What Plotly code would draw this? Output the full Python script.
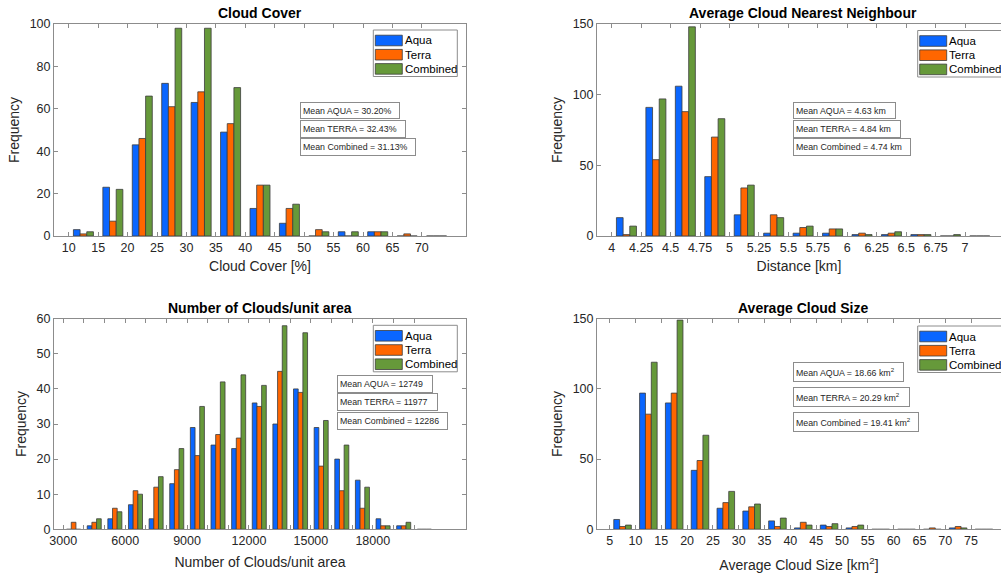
import plotly.graph_objects as go

W, H = 1001, 577
FONT = "Liberation Sans, Arial, Helvetica, sans-serif"

AQUA_COLOR = "#0a66ff"
TERRA_COLOR = "#ff6600"
COMB_COLOR = "#66993a"
EDGE = "#3c3c3c"
AXIS_GREY = "#8c8c8c"
SERIES = ["Aqua", "Terra", "Combined"]

# ---- Cloud cover [%], 5 % bins ----
cover_bins = [12.5, 17.5, 22.5, 27.5, 32.5, 37.5, 42.5, 47.5, 52.5, 57.5, 62.5, 67.5, 72.5]
cover_aqua = [3, 23, 43, 72, 63, 49, 13, 6, 0, 2, 2, 0, 0]
cover_terra = [1, 7, 46, 61, 68, 53, 24, 13, 3, 0, 2, 1, 0]
cover_comb = [2, 22, 66, 98, 98, 70, 24, 15, 2, 2, 2, 0, 0]
cover_ticks = [10, 15, 20, 25, 30, 35, 40, 45, 50, 55, 60, 65, 70]
cover_means = ["30.20%", "32.43%", "31.13%"]

# ---- Average nearest-neighbour distance [km], 0.25 km bins ----
nn_bins = [4.125, 4.375, 4.625, 4.875, 5.125, 5.375, 5.625, 5.875, 6.125, 6.375, 6.625, 6.875, 7.125]
nn_aqua = [13, 91, 106, 42, 15, 2, 2, 2, 1, 1, 1, 0, 0]
nn_terra = [1, 54, 88, 70, 34, 15, 6, 5, 2, 2, 1, 0, 0]
nn_comb = [7, 97, 148, 83, 36, 13, 7, 5, 1, 3, 1, 1, 0]
nn_ticks = [4, 4.25, 4.5, 4.75, 5, 5.25, 5.5, 5.75, 6, 6.25, 6.5, 6.75, 7]
nn_ticktext = ["4", "4.25", "4.5", "4.75", "5", "5.25", "5.5", "5.75", "6", "6.25", "6.5", "6.75", "7"]
nn_means = ["4.63 km", "4.84 km", "4.74 km"]

# ---- Number of clouds per unit area, 1000 bins ----
count_bins = [3500, 4500, 5500, 6500, 7500, 8500, 9500, 10500, 11500, 12500,
              13500, 14500, 15500, 16500, 17500, 18500, 19500, 20500]
count_aqua = [0, 1, 3, 7, 3, 13, 29, 24, 23, 36, 30, 40, 29, 20, 14, 3, 1, 0]
count_terra = [2, 2, 6, 11, 12, 17, 21, 27, 26, 35, 45, 39, 18, 11, 6, 1, 1, 0]
count_comb = [0, 3, 5, 10, 15, 23, 35, 42, 44, 41, 58, 56, 31, 24, 12, 1, 2, 0]
count_ticks = [3000, 6000, 9000, 12000, 15000, 18000]
count_ticktext = ["3000", "6000", "9000", "12000", "15000", "18000"]
count_minor_ticks = [4000, 5000, 7000, 8000, 10000, 11000, 13000, 14000,
                     16000, 17000, 19000, 20000]
count_means = ["12749", "11977", "12286"]

# ---- Average cloud size [km^2], 5 km^2 bins ----
size_bins = [7.5, 12.5, 17.5, 22.5, 27.5, 32.5, 37.5, 42.5, 47.5, 52.5, 57.5, 62.5, 67.5, 72.5, 77.5]
size_aqua = [7, 97, 90, 42, 15, 13, 6, 1, 3, 1, 0, 0, 0, 1, 0]
size_terra = [2, 82, 97, 49, 19, 16, 2, 5, 2, 2, 0, 0, 1, 2, 0]
size_comb = [3, 119, 149, 67, 27, 18, 8, 3, 4, 3, 0, 0, 0, 1, 0]
size_ticks = [5, 10, 15, 20, 25, 30, 35, 40, 45, 50, 55, 60, 65, 70, 75]
size_means = ["18.66 km<sup>2</sup>", "20.29 km<sup>2</sup>", "19.41 km<sup>2</sup>"]


def px_x(p):
    return p / W


def px_y(p):
    return 1 - p / H


panels = [
    dict(title="Cloud Cover", xtitle="Cloud Cover [%]", bins=cover_bins,
         series=[cover_aqua, cover_terra, cover_comb], ticks=cover_ticks, ticktext=None, minor=None,
         xr=[7.5, 77.5], yr=[0, 100], ydtick=20, means=cover_means, standoff=7,
         box=(54, 466, 24, 236), center=260, right=False,
         mean_boxes=[(300, 102, 100, 17), (300, 120, 106, 17.5), (300, 138.5, 116, 17.5)],
         legend=(373.3, 30)),
    dict(title="Average Cloud Nearest Neighbour", xtitle="Distance [km]", bins=nn_bins,
         series=[nn_aqua, nn_terra, nn_comb], ticks=nn_ticks, ticktext=nn_ticktext, minor=None,
         xr=[3.875, 7.305], yr=[0, 150], ydtick=50, means=nn_means, standoff=7,
         box=(597, 1001, 24, 236), center=803, right=True,
         mean_boxes=[(793.3, 102, 103, 17), (793.3, 120, 107.5, 17.5), (793.3, 138.5, 117.5, 17.5)],
         legend=(917.7, 30.5)),
    dict(title="Number of Clouds/unit area", xtitle="Number of Clouds/unit area", bins=count_bins,
         series=[count_aqua, count_terra, count_comb], ticks=count_ticks, ticktext=count_ticktext,
         minor=count_minor_ticks,
         xr=[2550, 22520], yr=[0, 60], ydtick=10, means=count_means, standoff=9,
         box=(54, 466, 318.7, 529.3), center=260, right=False,
         mean_boxes=[(337, 375, 95.5, 17.5), (337, 393.3, 100.5, 17.5), (337, 412, 110.5, 17.5)],
         legend=(373.3, 325.3)),
    dict(title="Average Cloud Size", xtitle="Average Cloud Size [km<sup>2</sup>]", bins=size_bins,
         series=[size_aqua, size_terra, size_comb], ticks=size_ticks, ticktext=None, minor=None,
         xr=[2.55, 80.8], yr=[0, 150], ydtick=50, means=size_means, standoff=12,
         box=(597, 1001, 318.7, 529.3), center=803, right=True,
         mean_boxes=[(793.3, 362.3, 111, 20), (793.3, 387.3, 116.5, 20), (793.3, 412.3, 126, 20)],
         legend=(917.7, 326)),
]

mean_labels = ["Mean AQUA = ", "Mean TERRA = ", "Mean Combined = "]
colors = [AQUA_COLOR, TERRA_COLOR, COMB_COLOR]

fig = go.Figure()
layout = dict(
    width=W, height=H,
    margin=dict(l=0, r=0, t=0, b=0, autoexpand=False),
    paper_bgcolor="white", plot_bgcolor="white",
    barmode="group", bargap=0.32, bargroupgap=0,
    showlegend=False,
    font=dict(family=FONT, color="#262626"),
)
shapes = []
annotations = []

for i, p in enumerate(panels):
    n = "" if i == 0 else str(i + 1)
    xa, ya = "x" + n, "y" + n
    for name, vals, col in zip(SERIES, p["series"], colors):
        fig.add_trace(go.Bar(
            x=p["bins"], y=vals, name=name, xaxis=xa, yaxis=ya,
            marker=dict(color=col, line=dict(color=EDGE, width=0.8)),
            offsetgroup=name,
        ))
    x0, x1, y0, y1 = p["box"]
    xaxis = dict(
        domain=[px_x(x0), min(1.0, px_x(x1))], anchor=ya, range=p["xr"],
        automargin=False,
        tickmode="array", tickvals=p["ticks"],
        showline=True, linecolor=AXIS_GREY, linewidth=1, mirror="ticks",
        ticks="inside", ticklen=4, tickcolor=AXIS_GREY,
        tickfont=dict(size=12.5, color="#262626"),
        showgrid=False, zeroline=False,
        title=dict(text=p["xtitle"], font=dict(size=14, color="#262626"), standoff=p["standoff"]),
    )
    if p["ticktext"] is not None:
        xaxis["ticktext"] = p["ticktext"]
    if p["minor"] is not None:
        xaxis["minor"] = dict(tickmode="array", tickvals=p["minor"], ticks="inside",
                              ticklen=4, tickcolor=AXIS_GREY, showgrid=False)
    yaxis = dict(
        domain=[px_y(y1), px_y(y0)], anchor=xa, range=p["yr"], dtick=p["ydtick"],
        automargin=False,
        showline=True, linecolor=AXIS_GREY, linewidth=1,
        mirror=False if p["right"] else "ticks",
        ticks="inside", ticklen=4, tickcolor=AXIS_GREY,
        tickfont=dict(size=12.5, color="#262626"),
        showgrid=False, zeroline=False,
        title=dict(text="Frequency", font=dict(size=14, color="#262626"), standoff=6),
    )
    layout["xaxis" + n] = xaxis
    layout["yaxis" + n] = yaxis

    # panel title
    annotations.append(dict(
        text="<b>" + p["title"] + "</b>", xref="paper", yref="paper",
        x=px_x(p["center"]), y=px_y(y0 - 11), xanchor="center", yanchor="middle",
        showarrow=False, font=dict(size=14, color="black", family=FONT),
    ))

    # mean value boxes
    for lab, val, (bx, by, bw, bh) in zip(mean_labels, p["means"], p["mean_boxes"]):
        annotations.append(dict(
            text=lab + val, xref="paper", yref="paper",
            x=px_x(bx), y=px_y(by), xanchor="left", yanchor="top",
            width=bw - 6, height=bh - 6, borderpad=2, borderwidth=1,
            bordercolor="#8c8c8c", bgcolor="white", align="left", valign="middle",
            showarrow=False, font=dict(size=8.8, color="#262626", family=FONT),
        ))

    # legend box with wide swatches
    lx, ly = p["legend"]
    shapes.append(dict(type="rect", xref="paper", yref="paper", layer="above",
                       x0=px_x(lx), x1=px_x(lx + 84), y0=px_y(ly), y1=px_y(ly + 46.5),
                       line=dict(color=AXIS_GREY, width=1), fillcolor="white"))
    for k, (name, col) in enumerate(zip(SERIES, colors)):
        cy = ly + 10.5 + 14.2 * k
        shapes.append(dict(type="rect", xref="paper", yref="paper", layer="above",
                           x0=px_x(lx + 2), x1=px_x(lx + 29), y0=px_y(cy - 5.3), y1=px_y(cy + 5.3),
                           line=dict(color=EDGE, width=0.8), fillcolor=col))
        annotations.append(dict(
            text=name, xref="paper", yref="paper", x=px_x(lx + 29.5), y=px_y(cy),
            xanchor="left", yanchor="middle", showarrow=False,
            font=dict(size=11.5, color="black", family=FONT),
        ))

layout["shapes"] = shapes
layout["annotations"] = annotations
fig.update_layout(**layout)
fig.write_html("out.html")
